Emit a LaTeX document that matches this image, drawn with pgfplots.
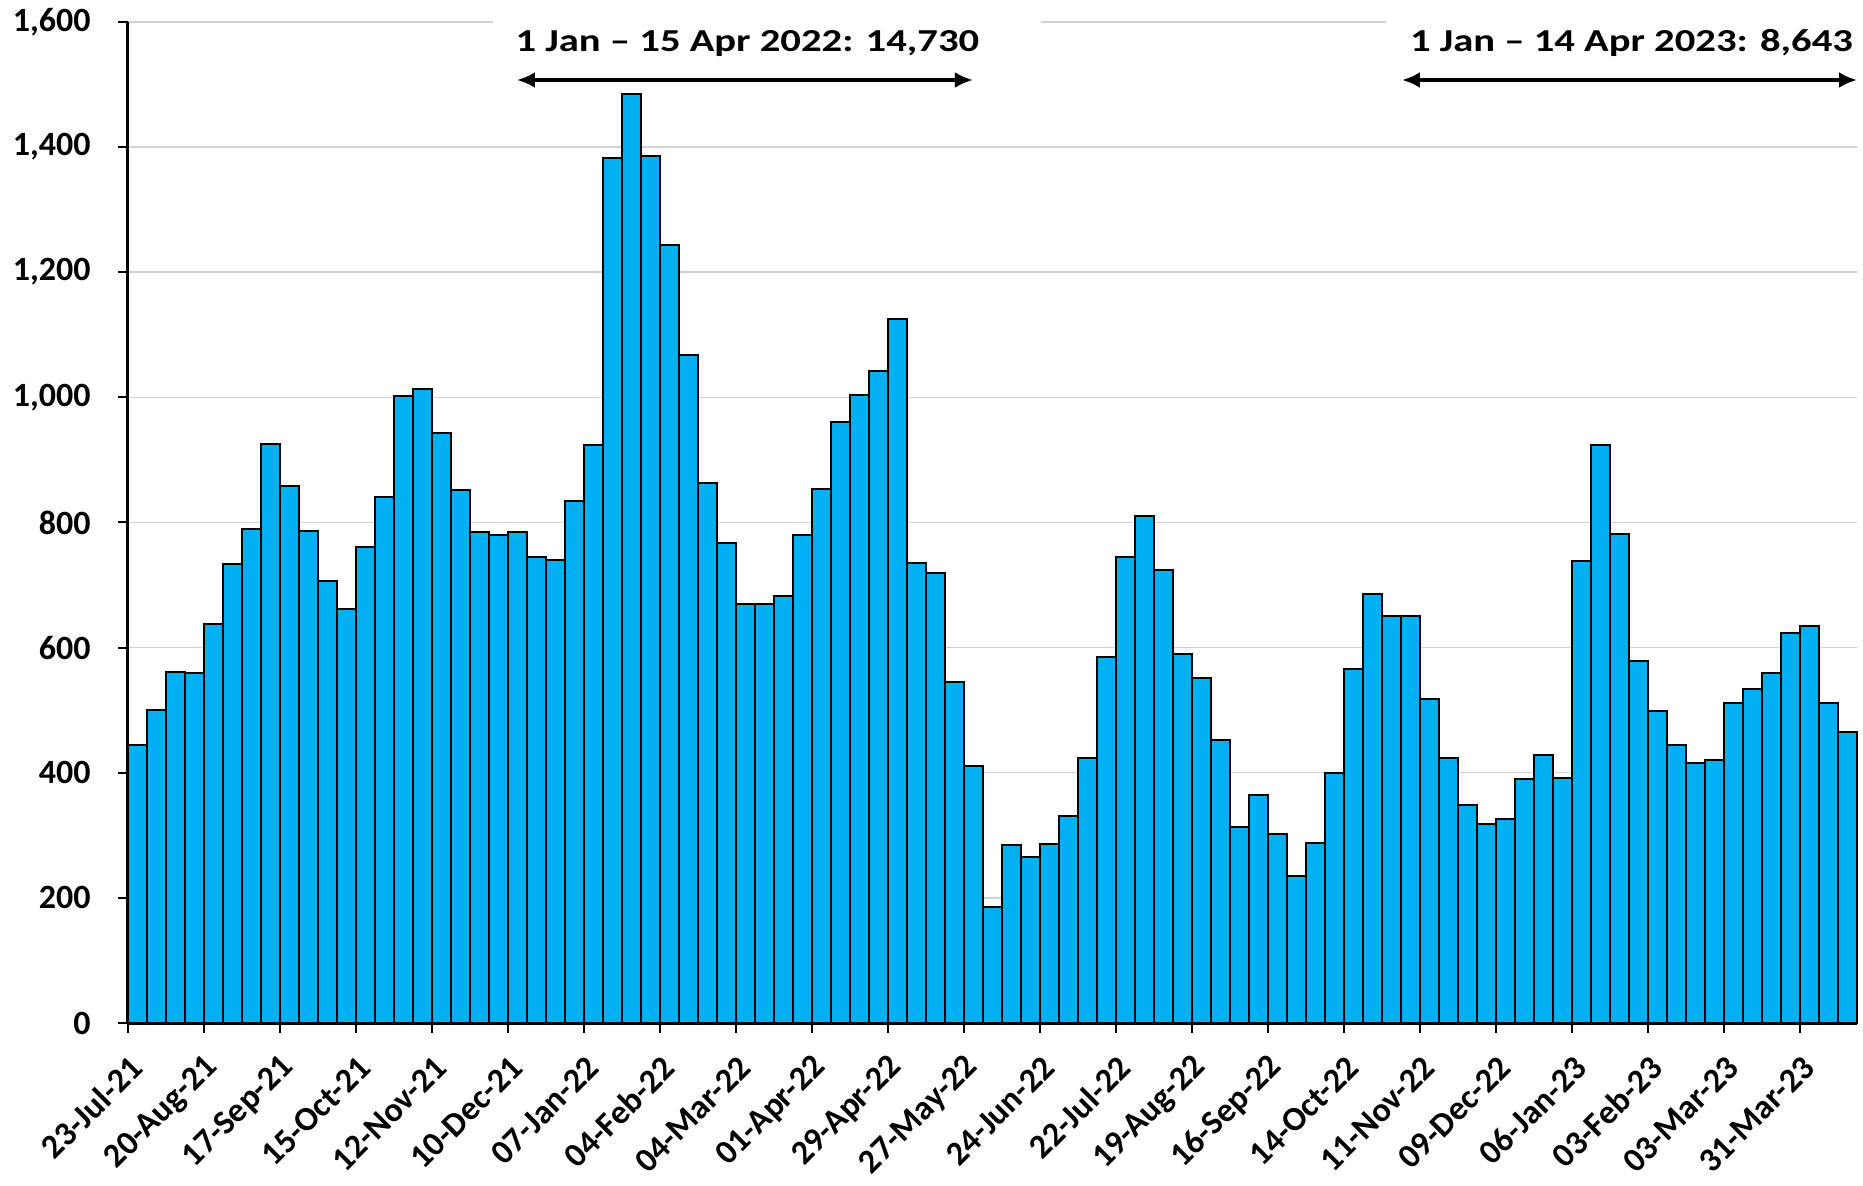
\documentclass[border=0pt]{standalone}
\usepackage{fontspec}
\setmainfont{Carlito}
\newfontfamily\annfont[FakeStretch=1.27]{Carlito}
\usepackage{pgfplots}
\usepackage{pgfplotstable}
\pgfplotsset{compat=1.18}
\usetikzlibrary{arrows.meta}
\definecolor{barblue}{RGB}{0,176,240}
\definecolor{gridgray}{RGB}{210,210,210}
\pgfplotstableread{
x y
0 445
1 500
2 561
3 559
4 637
5 734
6 789
7 925
8 858
9 787
10 706
11 661
12 761
13 841
14 1002
15 1013
16 943
17 851
18 784
19 780
20 784
21 744
22 740
23 834
24 923
25 1383
26 1485
27 1386
28 1243
29 1067
30 863
31 767
32 669
33 669
34 682
35 780
36 854
37 960
38 1004
39 1042
40 1125
41 735
42 719
43 545
44 410
45 186
46 284
47 265
48 286
49 331
50 424
51 585
52 745
53 810
54 724
55 590
56 552
57 452
58 314
59 364
60 302
61 235
62 288
63 400
64 565
65 686
66 650
67 650
68 518
69 424
70 349
71 318
72 326
73 390
74 429
75 391
76 739
77 923
78 781
79 579
80 499
81 445
82 415
83 420
84 512
85 533
86 560
87 624
88 635
89 512
90 465
}\datatable
\begin{document}
\begin{tikzpicture}
\useasboundingbox (-64pt,-81pt) rectangle (867.5pt,511.5pt);
\begin{axis}[
  at={(0pt,0pt)}, anchor=south west,
  scale only axis, width=864.5pt, height=500.6pt,
  xmin=-0.5, xmax=90.5, ymin=0, ymax=1600,
  axis x line*=bottom, axis y line*=left,
  axis line style={line width=1.5pt, black},
  ytick={0,200,400,600,800,1000,1200,1400,1600},
  yticklabels={0,200,400,600,800,{1,000},{1,200},{1,400},{1,600}},
  xtick={-0.5,3.5,7.5,11.5,15.5,19.5,23.5,27.5,31.5,35.5,39.5,43.5,47.5,51.5,55.5,59.5,63.5,67.5,71.5,75.5,79.5,83.5,87.5},
  xticklabels={23-Jul-21,20-Aug-21,17-Sep-21,15-Oct-21,12-Nov-21,10-Dec-21,07-Jan-22,04-Feb-22,04-Mar-22,01-Apr-22,29-Apr-22,27-May-22,24-Jun-22,22-Jul-22,19-Aug-22,16-Sep-22,14-Oct-22,11-Nov-22,09-Dec-22,06-Jan-23,03-Feb-23,03-Mar-23,31-Mar-23},
  ymajorgrids, major grid style={gridgray, line width=0.75pt},
  tick align=outside, major tick length=5pt,
  tick style={black, line width=1pt},
  ticklabel style={font=\bfseries\fontsize{17}{17}\selectfont},
  yticklabel style={anchor=east, inner sep=0pt, xshift=-13.5pt},
  xticklabel style={xshift=4.5pt, yshift=-14.5pt, rotate=45, anchor=east, inner sep=0pt},
  clip=false,
]
\addplot[ybar, bar width=1, fill=barblue, draw=black, line width=1pt] table[x=x, y=y] {\datatable};
\fill[white] (axis cs:18.7,1590) rectangle (axis cs:47.55,1610);
\fill[white] (axis cs:65.7,1590) rectangle (axis cs:91,1610);
\draw[{Latex[length=9pt,width=8pt]}-{Latex[length=9pt,width=8pt]}, line width=2pt] (axis cs:19.97,1507) -- (axis cs:43.97,1507);
\draw[{Latex[length=9pt,width=8pt]}-{Latex[length=9pt,width=8pt]}, line width=2pt] (axis cs:66.55,1507) -- (axis cs:90.5,1507);
\node[anchor=base, inner sep=0pt, font=\annfont\bfseries\fontsize{16}{16}\selectfont] at (axis cs:32.1,1552) {1 Jan – 15 Apr 2022: 14,730};
\node[anchor=base, inner sep=0pt, font=\annfont\bfseries\fontsize{16}{16}\selectfont] at (axis cs:78.63,1552) {1 Jan – 14 Apr 2023: 8,643};
\end{axis}
\end{tikzpicture}
\end{document}
